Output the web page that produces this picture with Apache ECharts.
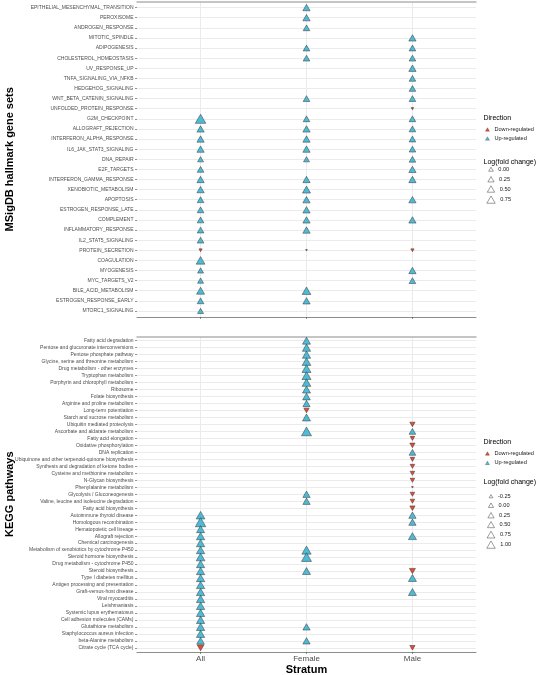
<!DOCTYPE html>
<html><head><meta charset="utf-8">
<script src="https://cdn.jsdelivr.net/npm/echarts@6/dist/echarts.min.js"></script>
<style>html,body{margin:0;padding:0;background:#fff}#c{width:537px;height:675px}</style>
</head><body><div id="c"></div>
<script>
const strata = ['All', 'Female', 'Male'];

const hallmarkSets = ['EPITHELIAL_MESENCHYMAL_TRANSITION','PEROXISOME','ANDROGEN_RESPONSE','MITOTIC_SPINDLE','ADIPOGENESIS','CHOLESTEROL_HOMEOSTASIS','UV_RESPONSE_UP','TNFA_SIGNALING_VIA_NFKB','HEDGEHOG_SIGNALING','WNT_BETA_CATENIN_SIGNALING','UNFOLDED_PROTEIN_RESPONSE','G2M_CHECKPOINT','ALLOGRAFT_REJECTION','INTERFERON_ALPHA_RESPONSE','IL6_JAK_STAT3_SIGNALING','DNA_REPAIR','E2F_TARGETS','INTERFERON_GAMMA_RESPONSE','XENOBIOTIC_METABOLISM','APOPTOSIS','ESTROGEN_RESPONSE_LATE','COMPLEMENT','INFLAMMATORY_RESPONSE','IL2_STAT5_SIGNALING','PROTEIN_SECRETION','COAGULATION','MYOGENESIS','MYC_TARGETS_V2','BILE_ACID_METABOLISM','ESTROGEN_RESPONSE_EARLY','MTORC1_SIGNALING'];

// log(fold change) per stratum (null = not shown)
const hallmarkAll = [null,null,null,null,null,null,null,null,null,null,null,0.90,0.24,0.24,0.24,0.06,0.15,0.24,0.24,0.15,0.15,0.15,0.15,0.15,-0.17,0.49,0.06,0.06,0.36,0.15,0.06];
const hallmarkFemale = [0.24,0.24,0.15,null,0.15,0.15,null,null,null,0.15,null,0.15,0.24,0.24,0.24,0.06,null,0.24,0.36,0.24,0.24,0.24,0.24,null,-0.20,null,null,null,0.49,0.24,null];
const hallmarkMale = [null,null,null,0.24,0.15,0.15,0.24,0.15,0.15,0.15,-0.19,0.15,0.15,0.15,0.15,0.15,0.24,0.24,null,0.24,null,0.24,null,null,-0.17,null,0.24,0.15,null,null,null];
// direction: U = up-regulated, D = down-regulated
const hallmarkDirAll    = '...........UUUUUUUUUUUUUDUUUUUU';
const hallmarkDirFemale = 'UUU.UU...U.UUUUU.UUUUUU.D...UU.';
const hallmarkDirMale   = '...UUUUUUUDUUUUUUU.U.U..D.UU...';

const keggPathways = ['Fatty acid degradation','Pentose and glucuronate interconversions','Pentose phosphate pathway','Glycine, serine and threonine metabolism','Drug metabolism - other enzymes','Tryptophan metabolism','Porphyrin and chlorophyll metabolism','Ribosome','Folate biosynthesis','Arginine and proline metabolism','Long-term potentiation','Starch and sucrose metabolism','Ubiquitin mediated proteolysis','Ascorbate and aldarate metabolism','Fatty acid elongation','Oxidative phosphorylation','DNA replication','Ubiquinone and other terpenoid-quinone biosynthesis','Synthesis and degradation of ketone bodies','Cysteine and methionine metabolism','N-Glycan biosynthesis','Phenylalanine metabolism','Glycolysis / Gluconeogenesis','Valine, leucine and isoleucine degradation','Fatty acid biosynthesis','Autoimmune thyroid disease','Homologous recombination','Hematopoietic cell lineage','Allograft rejection','Chemical carcinogenesis','Metabolism of xenobiotics by cytochrome P450','Steroid hormone biosynthesis','Drug metabolism - cytochrome P450','Steroid biosynthesis','Type I diabetes mellitus','Antigen processing and presentation','Graft-versus-host disease','Viral myocarditis','Leishmaniasis','Systemic lupus erythematosus','Cell adhesion molecules (CAMs)','Glutathione metabolism','Staphylococcus aureus infection','beta-Alanine metabolism','Citrate cycle (TCA cycle)'];

const keggAll = [null,null,null,null,null,null,null,null,null,null,null,null,null,null,null,null,null,null,null,null,null,null,null,null,null,0.61,1.20,0.42,0.50,0.50,0.50,0.61,0.50,0.50,0.50,0.50,0.50,0.50,0.50,0.50,0.50,0.50,0.50,0.34,0.11];
const keggFemale = [0.42,0.50,0.50,0.61,0.70,0.70,0.61,0.42,0.34,0.24,-0.14,0.42,null,1.02,null,null,null,null,null,null,null,null,0.24,0.24,null,null,null,null,null,null,0.79,1.02,null,0.42,null,null,null,null,null,null,null,0.24,null,0.24,null];
const keggMale = [null,null,null,null,null,null,null,null,null,null,null,null,-0.14,0.11,-0.22,-0.14,0.11,-0.22,-0.22,-0.22,-0.22,-0.40,-0.22,-0.22,-0.14,0.24,0.24,null,0.42,null,null,null,null,-0.02,0.42,null,0.42,null,null,null,null,null,null,null,-0.14];
const keggDirAll    = '.........................UUUUUUUUUUUUUUUUUUUD';
const keggDirFemale = 'UUUUUUUUUUDU.U........UU......UU.U.......U.U.';
const keggDirMale   = '............DUDDUDDDDDDDDUU.U....DU.U.......D';

const hallmarkSizeTicks = ['0.00', '0.25', '0.50', '0.75'];
const keggSizeTicks = ['-0.25', '0.00', '0.25', '0.50', '0.75', '1.00'];
const directions = ['Down-regulated', 'Up-regulated'];

const COL_UP = '#4DBBD5', COL_DOWN = '#E64B35';
const sizeScales = [{min: -0.2, max: 0.9}, {min: -0.4, max: 1.2}];
function symW(p, v) {
  const s = sizeScales[p];
  const t = Math.max(0, Math.min(1, (v - s.min) / (s.max - s.min)));
  return 1.75 + 8.75 * Math.sqrt(t);
}

const panels = [
  {cats: hallmarkSets, vals: [hallmarkAll, hallmarkFemale, hallmarkMale], dirs: [hallmarkDirAll, hallmarkDirFemale, hallmarkDirMale], title: 'MSigDB hallmark gene sets', top: 1.5, ticks: hallmarkSizeTicks},
  {cats: keggPathways, vals: [keggAll, keggFemale, keggMale], dirs: [keggDirAll, keggDirFemale, keggDirMale], title: 'KEGG pathways', top: 336.5, ticks: keggSizeTicks}
];
const GRID_LEFT = 137, GRID_RIGHT = 476, GRID_H = 315.5;

const grid = [], xAxis = [], yAxis = [], series = [], legend = [], title = [];
panels.forEach((P, p) => {
  grid.push({left: GRID_LEFT, top: P.top, width: GRID_RIGHT - GRID_LEFT, height: GRID_H, containLabel: false, outerBoundsMode: 'none'});
  const n = P.cats.length;
  const idxs = P.cats.map((c, i) => i);
  xAxis.push({
    gridIndex: p, type: 'value', min: -0.6, max: 2.6, position: 'bottom',
    axisLine: {show: true, onZero: false, lineStyle: {color: '#8c8c8c', width: 1}},
    axisTick: {show: true, customValues: [0, 1, 2], length: 2, lineStyle: {color: '#4d4d4d', width: 0.6}},
    axisLabel: {show: p === 1, customValues: [0, 1, 2], formatter: v => strata[Math.round(v)], fontSize: 8, color: '#4d4d4d', margin: 2.5, fontFamily: 'Liberation Sans'},
    splitLine: {show: true, lineStyle: {color: '#ebebeb', width: 1}},
    name: p === 1 ? 'Stratum' : '', nameLocation: 'middle', nameGap: 12, nameMoveOverlap: false,
    nameTextStyle: {fontSize: 11, fontWeight: 'bold', color: '#000', fontFamily: 'Liberation Sans'}
  });
  xAxis.push({
    gridIndex: p, type: 'value', min: -0.6, max: 2.6, position: 'top',
    axisLine: {show: true, onZero: false, lineStyle: {color: '#b3b3b3', width: 1.5}},
    axisTick: {show: false}, axisLabel: {show: false}, splitLine: {show: false}
  });
  yAxis.push({
    gridIndex: p, type: 'value', inverse: true, min: -0.6, max: n - 1 + 0.6, position: 'left',
    axisLine: {show: false, onZero: false},
    axisTick: {show: true, customValues: idxs, length: 2, lineStyle: {color: '#4d4d4d', width: 0.6}},
    axisLabel: {show: true, customValues: idxs, formatter: v => P.cats[Math.round(v)], fontSize: 5, color: '#4d4d4d', margin: 3.5, fontFamily: 'Liberation Sans'},
    splitLine: {show: true, lineStyle: {color: '#ebebeb', width: 1}},
    name: P.title, nameLocation: 'middle', nameRotate: 90, nameGap: 122, nameMoveOverlap: false,
    nameTextStyle: {fontSize: 11, fontWeight: 'bold', color: '#000', fontFamily: 'Liberation Sans'}
  });
  ['D', 'U'].forEach(d => {
    const data = [];
    P.vals.forEach((arr, s) => arr.forEach((v, i) => {
      if (v !== null && P.dirs[s][i] === d) data.push([s, i, v]);
    }));
    series.push({
      type: 'scatter', name: d === 'U' ? directions[1] : directions[0],
      xAxisIndex: p * 2, yAxisIndex: p, data: data,
      symbol: 'triangle', symbolRotate: d === 'U' ? 0 : 180,
      symbolSize: val => { const w = symW(p, val[2]); return [w, w * 0.87]; },
      itemStyle: {color: d === 'U' ? COL_UP : COL_DOWN, borderColor: '#333', borderWidth: 0.5, opacity: 1},
      emphasis: {disabled: true}, silent: true, z: d === 'U' ? 3 : 2
    });
  });
});

// legends
const legX = 483.5;
const legendLayout = [
  {dirTitle: 118.7, dirItems: [129.3, 138.3], sizeTitle: 162.3, sizeItems: [169, 179, 188.7, 199.3]},
  {dirTitle: 442.7, dirItems: [453.3, 462.7], sizeTitle: 482.7, sizeItems: [496, 505, 515, 524.3, 534.3, 544.3]}
];
const sizeNames = {};
panels.forEach((P, p) => {
  const L = legendLayout[p];
  title.push({text: 'Direction', left: legX, top: L.dirTitle - 4, padding: 0, textStyle: {fontSize: 7, fontWeight: 'normal', color: '#000', fontFamily: 'Liberation Sans'}});
  title.push({text: 'Log(fold change)', left: legX, top: L.sizeTitle - 4, padding: 0, textStyle: {fontSize: 7, fontWeight: 'normal', color: '#000', fontFamily: 'Liberation Sans'}});
  directions.forEach((nm, k) => {
    legend.push({
      data: [{name: nm, icon: 'triangle', itemStyle: {color: k === 0 ? COL_DOWN : COL_UP, borderColor: '#333', borderWidth: 0.3}}],
      symbolRotate: k === 0 ? 180 : 0,
      left: 485.3, top: L.dirItems[k] - 2.8, itemWidth: 4, itemHeight: 3.5, padding: 0,
      selectedMode: false, textStyle: {fontSize: 5.6, color: '#1a1a1a', fontFamily: 'Liberation Sans'}
    });
  });
  P.ticks.forEach((lab, k) => {
    const v = parseFloat(lab);
    const w = symW(p, v) * 0.85;
    sizeNames[lab] = true;
    legend.push({
      data: [{name: lab, icon: 'triangle', itemStyle: {color: 'rgba(0,0,0,0)', borderColor: '#333', borderWidth: 0.6}}],
      left: 490.7 - w / 2, top: L.sizeItems[k] - Math.max(w * 0.87, 5.6) / 2,
      itemWidth: w, itemHeight: w * 0.87, padding: 0, selectedMode: false,
      textStyle: {fontSize: 5.6, color: '#1a1a1a', fontFamily: 'Liberation Sans'}
    });
  });
});
Object.keys(sizeNames).forEach(nm => series.push({type: 'scatter', name: nm, xAxisIndex: 0, yAxisIndex: 0, data: [], symbol: 'triangle'}));

const chart = echarts.init(document.getElementById('c'), null, {renderer: 'canvas'});
chart.setOption({
  animation: false, backgroundColor: '#fff',
  textStyle: {fontFamily: 'Liberation Sans'},
  title, grid, xAxis, yAxis, legend, series
});
</script></body></html>
